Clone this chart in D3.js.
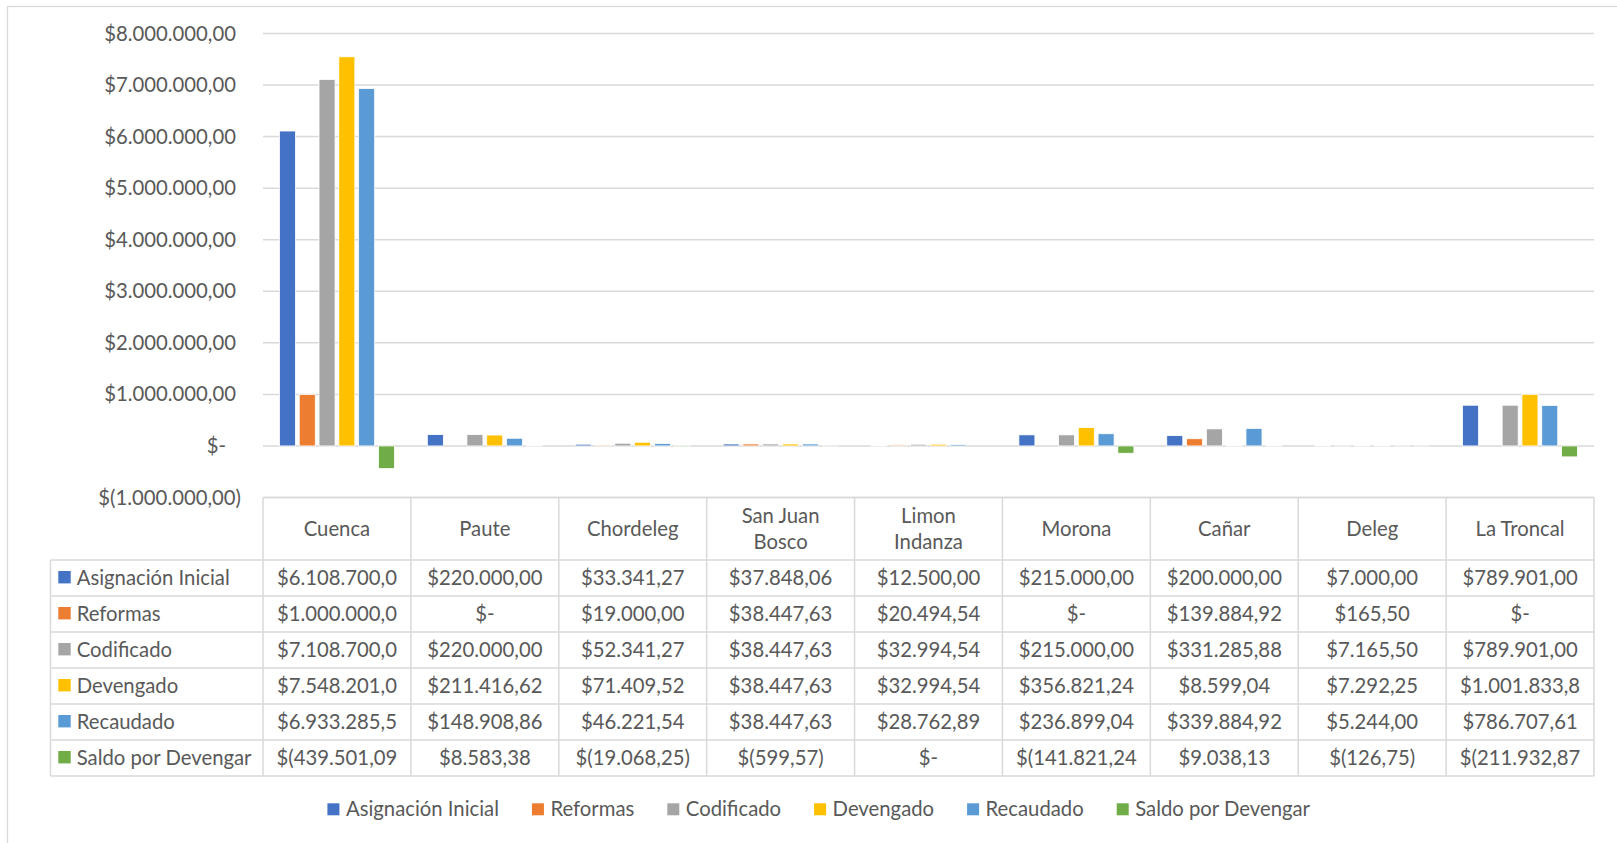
<!DOCTYPE html>
<html>
<head>
<meta charset="utf-8">
<script src="https://cdnjs.cloudflare.com/ajax/libs/d3/7.8.5/d3.min.js"></script>
<style>
  body { margin: 0; background: #fff; }
  svg text { font-family: Lato, "Open Sans", sans-serif; font-size: 20.3px; fill: #595959; }
</style>
</head>
<body>
<svg width="1617" height="843"></svg>
<script>

// data
let categories = ["Cuenca", "Paute", "Chordeleg", "San Juan Bosco", "Limon Indanza", "Morona", "Cañar", "Deleg", "La Troncal"]
let headerLines = [["Cuenca"], ["Paute"], ["Chordeleg"], ["San Juan", "Bosco"], ["Limon", "Indanza"], ["Morona"], ["Cañar"], ["Deleg"], ["La Troncal"]]
let seriesNames = ["Asignación Inicial", "Reformas", "Codificado", "Devengado", "Recaudado", "Saldo por Devengar"]
let seriesColors = ["#4472C4", "#ED7D31", "#A5A5A5", "#FFC000", "#5B9BD5", "#70AD47"]

let asignacionInicial = [6108700, 220000, 33341.27, 37848.06, 12500, 215000, 200000, 7000, 789901]
let reformas = [1000000, 0, 19000, 38447.63, 20494.54, 0, 139884.92, 165.50, 0]
let codificado = [7108700, 220000, 52341.27, 38447.63, 32994.54, 215000, 331285.88, 7165.50, 789901]
let devengado = [7548201, 211416.62, 71409.52, 38447.63, 32994.54, 356821.24, 8599.04, 7292.25, 1001833.8]
let recaudado = [6933285.5, 148908.86, 46221.54, 38447.63, 28762.89, 236899.04, 339884.92, 5244, 786707.61]
let saldoPorDevengar = [-439501.09, 8583.38, -19068.25, -599.57, 0, -141821.24, 9038.13, -126.75, -211932.87]

let yTicks = [-1000000, 0, 1000000, 2000000, 3000000, 4000000, 5000000, 6000000, 7000000, 8000000]

let seriesValues = [asignacionInicial, reformas, codificado, devengado, recaudado, saldoPorDevengar]

function draw_chart(){

  let svg = d3.select("svg")
  let gridColor = "#D9D9D9"

  let plotLeft = 263, plotRight = 1594
  let tableTop = 497.5, headerBottom = 560, rowH = 36, seriesLeft = 50.5
  let tableBottom = headerBottom + rowH * seriesNames.length

  let loc = d3.formatLocale({decimal: ",", thousands: ".", grouping: [3], currency: ["$", ""]})
  let num = loc.format(",.2f")
  let money = function(v){
    if (v === 0) return "$-"
    if (v < 0) return "$(" + num(-v) + ")"
    return "$" + num(v)
  }

  let x0 = d3.scaleBand().domain(categories).range([plotLeft, plotRight])
  let x1 = d3.scaleBand().domain(seriesNames).range([0, x0.bandwidth()])
    .paddingInner(0.19).paddingOuter(0.83)
  let y = d3.scaleLinear().domain([-1000000, 8000000]).range([tableTop, 33.5])

  // outer chart frame (only left/top edges show)
  svg.append("rect")
    .attr("x", 7.5).attr("y", 6.5)
    .attr("width", 1700).attr("height", 900)
    .attr("fill", "none")
    .attr("stroke", gridColor)
    .attr("stroke-width", 1.3)

  // gridlines
  svg.selectAll("line.grid")
  .data(yTicks).enter()
    .append("line")
      .attr("class", "grid")
      .attr("x1", plotLeft).attr("x2", plotRight)
      .attr("y1", d => y(d)).attr("y2", d => y(d))
      .attr("stroke", gridColor)
      .attr("stroke-width", 1.5)

  // y tick labels
  svg.selectAll("text.ytick")
  .data(yTicks).enter()
    .append("text")
      .attr("class", "ytick")
      .attr("text-anchor", "end")
      .attr("x", function(d){ return d > 0 ? 236 : (d === 0 ? 226 : 241) })
      .attr("y", d => y(d))
      .attr("dy", "0.35em")
      .text(d => money(d))

  // bars
  let groups = svg.selectAll("g.cat")
  .data(categories).enter()
    .append("g")
      .attr("class", "cat")
      .attr("transform", d => "translate(" + x0(d) + ",0)")

  groups.selectAll("rect")
  .data(function(d, i){ return seriesNames.map(function(s, j){ return {s: s, v: seriesValues[j][i], c: seriesColors[j]} }) })
  .enter()
    .append("rect")
      .attr("x", d => x1(d.s))
      .attr("width", x1.bandwidth())
      .attr("y", d => Math.min(y(d.v), y(0)))
      .attr("height", d => Math.abs(y(d.v) - y(0)))
      .attr("fill", d => d.c)
      .attr("stroke", "#fff")
      .attr("stroke-width", 0.8)

  // data table borders
  let tbl = svg.append("g")
  tbl.append("line")
    .attr("x1", plotLeft).attr("x2", plotRight)
    .attr("y1", tableTop).attr("y2", tableTop)
  tbl.selectAll("line.h")
  .data(d3.range(seriesNames.length + 1)).enter()
    .append("line")
      .attr("class", "h")
      .attr("x1", seriesLeft).attr("x2", plotRight)
      .attr("y1", d => headerBottom + d * rowH)
      .attr("y2", d => headerBottom + d * rowH)
  tbl.selectAll("line.v")
  .data(d3.range(categories.length + 1)).enter()
    .append("line")
      .attr("class", "v")
      .attr("x1", d => plotLeft + d * x0.bandwidth())
      .attr("x2", d => plotLeft + d * x0.bandwidth())
      .attr("y1", tableTop).attr("y2", tableBottom)
  tbl.append("line")
    .attr("x1", seriesLeft).attr("x2", seriesLeft)
    .attr("y1", headerBottom).attr("y2", tableBottom)
  tbl.selectAll("line")
    .attr("stroke", gridColor)
    .attr("stroke-width", 1.5)

  // header cells
  let headerMid = (tableTop + headerBottom) / 2
  svg.selectAll("text.head")
  .data(categories).enter()
    .append("text")
      .attr("class", "head")
      .attr("text-anchor", "middle")
      .attr("x", d => x0(d) + x0.bandwidth() / 2)
      .attr("y", headerMid)
      .each(function(d, i){
        let lines = headerLines[i]
        let el = d3.select(this)
        lines.forEach(function(l, k){
          el.append("tspan")
            .attr("x", x0(d) + x0.bandwidth() / 2)
            .attr("y", headerMid + (k - (lines.length - 1) / 2) * 26.5)
            .attr("dy", "0.35em")
            .text(l)
        })
      })

  // series labels with keys
  seriesNames.forEach(function(s, j){
    let cy = headerBottom + j * rowH + rowH / 2
    svg.append("rect")
      .attr("x", 58.3).attr("y", cy - 7)
      .attr("width", 12.4).attr("height", 12.4)
      .attr("fill", seriesColors[j])
    svg.append("text")
      .attr("x", 76.7).attr("y", cy)
      .attr("dy", "0.35em")
      .text(s)

    svg.selectAll("text.cell" + j)
    .data(seriesValues[j]).enter()
      .append("text")
        .attr("class", "cell" + j)
        .attr("text-anchor", "middle")
        .attr("x", (d, i) => x0(categories[i]) + x0.bandwidth() / 2)
        .attr("y", cy)
        .attr("dy", "0.35em")
        .text(d => money(d).slice(0, 12))
  })

  // legend at the bottom
  let legend = svg.append("g")
  let lx = 0
  seriesNames.forEach(function(s, j){
    legend.append("rect")
      .attr("x", lx).attr("y", 803.3)
      .attr("width", 12).attr("height", 12)
      .attr("fill", seriesColors[j])
    let t = legend.append("text")
      .attr("x", lx + 18.5).attr("y", 809.3)
      .attr("dy", "0.35em")
      .text(s)
    lx += 18.5 + t.node().getComputedTextLength() + 33
  })
  let legendW = lx - 33
  legend.attr("transform", "translate(" + (818.7 - legendW / 2) + ",0)")
}

draw_chart()
</script>
</body>
</html>
